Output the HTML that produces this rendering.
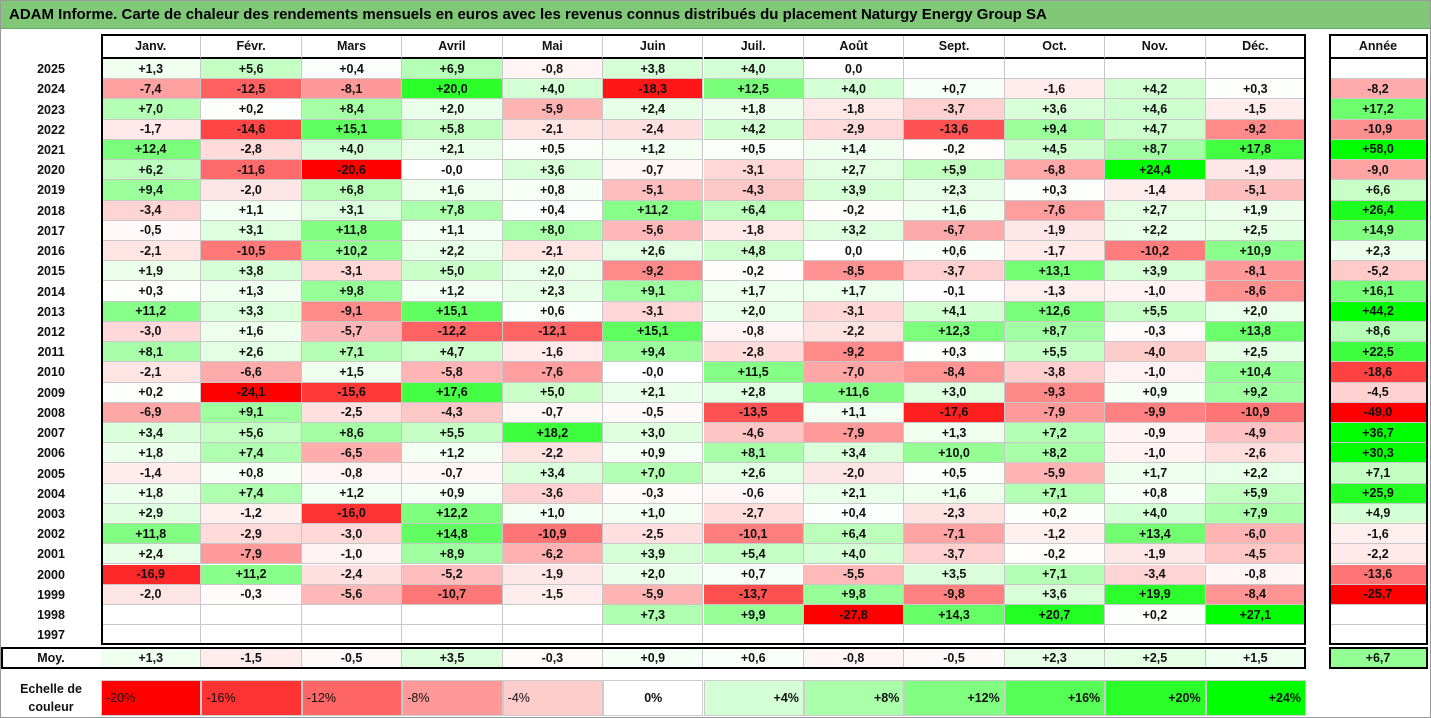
<!DOCTYPE html>
<html><head><meta charset="utf-8"><style>
body{margin:0;width:1431px;height:718px;background:#fff;overflow:hidden;font-family:"Liberation Sans",sans-serif;}
#root{position:relative;width:1431px;height:718px;box-sizing:border-box;border:1px solid #999;}
.c{position:absolute;box-sizing:border-box;font-weight:bold;font-size:12.5px;color:#111;display:flex;align-items:center;justify-content:center;white-space:nowrap;}
.box{position:absolute;box-sizing:border-box;border:2px solid #000;pointer-events:none;}
#title{position:absolute;left:0;top:0;width:1429px;height:28px;background:#80c878;font-weight:bold;font-size:15px;line-height:28px;padding-left:8px;box-sizing:border-box;border-bottom:1px solid #6a6;}
</style></head><body>
<div id="root">
<div id="title">ADAM Informe. Carte de chaleur des rendements mensuels en euros avec les revenus connus distribués du placement Naturgy Energy Group SA</div>
</div>
<script>
const months=["Janv.","Févr.","Mars","Avril","Mai","Juin","Juil.","Août","Sept.","Oct.","Nov.","Déc."];
const years=[2025,2024,2023,2022,2021,2020,2019,2018,2017,2016,2015,2014,2013,2012,2011,2010,2009,2008,2007,2006,2005,2004,2003,2002,2001,2000,1999,1998,1997];
const N=null;
const monthly=[
[1.3,5.6,0.4,6.9,-0.8,3.8,4.0,0.0,N,N,N,N],
[-7.4,-12.5,-8.1,20.0,4.0,-18.3,12.5,4.0,0.7,-1.6,4.2,0.3],
[7.0,0.2,8.4,2.0,-5.9,2.4,1.8,-1.8,-3.7,3.6,4.6,-1.5],
[-1.7,-14.6,15.1,5.8,-2.1,-2.4,4.2,-2.9,-13.6,9.4,4.7,-9.2],
[12.4,-2.8,4.0,2.1,0.5,1.2,0.5,1.4,-0.2,4.5,8.7,17.8],
[6.2,-11.6,-20.6,-0,3.6,-0.7,-3.1,2.7,5.9,-6.8,24.4,-1.9],
[9.4,-2.0,6.8,1.6,0.8,-5.1,-4.3,3.9,2.3,0.3,-1.4,-5.1],
[-3.4,1.1,3.1,7.8,0.4,11.2,6.4,-0.2,1.6,-7.6,2.7,1.9],
[-0.5,3.1,11.8,1.1,8.0,-5.6,-1.8,3.2,-6.7,-1.9,2.2,2.5],
[-2.1,-10.5,10.2,2.2,-2.1,2.6,4.8,0.0,0.6,-1.7,-10.2,10.9],
[1.9,3.8,-3.1,5.0,2.0,-9.2,-0.2,-8.5,-3.7,13.1,3.9,-8.1],
[0.3,1.3,9.8,1.2,2.3,9.1,1.7,1.7,-0.1,-1.3,-1.0,-8.6],
[11.2,3.3,-9.1,15.1,0.6,-3.1,2.0,-3.1,4.1,12.6,5.5,2.0],
[-3.0,1.6,-5.7,-12.2,-12.1,15.1,-0.8,-2.2,12.3,8.7,-0.3,13.8],
[8.1,2.6,7.1,4.7,-1.6,9.4,-2.8,-9.2,0.3,5.5,-4.0,2.5],
[-2.1,-6.6,1.5,-5.8,-7.6,-0,11.5,-7.0,-8.4,-3.8,-1.0,10.4],
[0.2,-24.1,-15.6,17.6,5.0,2.1,2.8,11.6,3.0,-9.3,0.9,9.2],
[-6.9,9.1,-2.5,-4.3,-0.7,-0.5,-13.5,1.1,-17.6,-7.9,-9.9,-10.9],
[3.4,5.6,8.6,5.5,18.2,3.0,-4.6,-7.9,1.3,7.2,-0.9,-4.9],
[1.8,7.4,-6.5,1.2,-2.2,0.9,8.1,3.4,10.0,8.2,-1.0,-2.6],
[-1.4,0.8,-0.8,-0.7,3.4,7.0,2.6,-2.0,0.5,-5.9,1.7,2.2],
[1.8,7.4,1.2,0.9,-3.6,-0.3,-0.6,2.1,1.6,7.1,0.8,5.9],
[2.9,-1.2,-16.0,12.2,1.0,1.0,-2.7,0.4,-2.3,0.2,4.0,7.9],
[11.8,-2.9,-3.0,14.8,-10.9,-2.5,-10.1,6.4,-7.1,-1.2,13.4,-6.0],
[2.4,-7.9,-1.0,8.9,-6.2,3.9,5.4,4.0,-3.7,-0.2,-1.9,-4.5],
[-16.9,11.2,-2.4,-5.2,-1.9,2.0,0.7,-5.5,3.5,7.1,-3.4,-0.8],
[-2.0,-0.3,-5.6,-10.7,-1.5,-5.9,-13.7,9.8,-9.8,3.6,19.9,-8.4],
[N,N,N,N,N,7.3,9.9,-27.8,14.3,20.7,0.2,27.1],
[N,N,N,N,N,N,N,N,N,N,N,N]];
const annual=[N,-8.2,17.2,-10.9,58.0,-9.0,6.6,26.4,14.9,2.3,-5.2,16.1,44.2,8.6,22.5,-18.6,-4.5,-49.0,36.7,30.3,7.1,25.9,4.9,-1.6,-2.2,-13.6,-25.7,N,N];
const averages=[1.3,-1.5,-0.5,3.5,-0.3,0.9,0.6,-0.8,-0.5,2.3,2.5,1.5];
const avgAnnual=6.7;
const scaleVals=[-20,-16,-12,-8,-4,0,4,8,12,16,20,24];

const root=document.getElementById('root');
const X0=100,CW=(1305-100)/12,Y0=58,RH=20.22,AX=1328,AW=99;
function col(v,neg,pos){
  if(v===null)return '#fff';
  let t;
  if(v<0){t=Math.min(1,-v/neg);const g=Math.round(255*(1-t));return `rgb(255,${g},${g})`;}
  t=Math.min(1,v/pos);const r=Math.round(255*(1-t));return `rgb(${r},255,${r})`;
}
function fmt(v){if(v===null)return '';if(Object.is(v,-0))return '-0,0';if(v===0)return '0,0';return (v>0?'+':'')+v.toFixed(1).replace('.',',');}
function cell(x,y,w,h,txt,bg,name,extra){
  const d=document.createElement('div');d.className='c';
  d.style.cssText=`left:${x}px;top:${y}px;width:${w}px;height:${h}px;background:${bg};border-right:1px solid #c8c8c8;border-bottom:1px solid #c8c8c8;`+(extra||'');
  d.textContent=txt;
  
  
  root.appendChild(d);return d;
}
function box(x,y,w,h,name){const b=document.createElement('div');b.className='box';b.style.cssText=`left:${x}px;top:${y}px;width:${w}px;height:${h}px;`;


root.appendChild(b);}
months.forEach((m,j)=>{const d=cell(X0+j*CW,33,CW,25,m,'#fff','month-header');d.style.borderBottom='2px solid #000';});
cell(AX,33,AW,25,'Année','#fff','annual-header','border-bottom:2px solid #000;');
years.forEach((yr,i)=>{
  const y=Y0+i*RH;
  cell(0,y,X0,RH,String(yr),'#fff','year-label','border-right:none;border-bottom:none;');
  monthly[i].forEach((v,j)=>cell(X0+j*CW,y,CW,RH,fmt(v),col(v,20,24),'heat-cell'));
  cell(AX,y,AW,RH,fmt(annual[i]),col(annual[i],25,30),'annual-cell');
});
const bottom=Y0+years.length*RH;
box(X0,33,1305-X0,bottom-33,'monthly-table-border');
box(AX,33,AW,bottom-33,'annual-table-border');
const my=bottom+2,mh=22;
cell(0,my,X0,mh,'Moy.','#fff','average-label','border:none;');
averages.forEach((v,j)=>cell(X0+j*CW,my,CW,mh,fmt(v),col(v,20,24),'average-cell'));
cell(AX,my,AW,mh,fmt(avgAnnual),col(avgAnnual,12,16),'annual-average-cell');
box(0,my,1305,mh,'average-row-border');
box(AX,my,AW,mh,'annual-average-border');
cell(0,679,X0,36,'Echelle de couleur','#fff','scale-label','border:none;white-space:normal;text-align:center;line-height:18px;');
scaleVals.forEach((v,j)=>{
  const al=v<0?'flex-start':(v>0?'flex-end':'center');
  cell(X0+j*CW,679,CW,36,(v>0?'+':'')+v+'%',col(v,20,24),'scale-cell',`justify-content:${al};padding:0 4px;font-weight:${v<0?'normal':'bold'};border:1px solid #ccc;`);
});
</script>
</body></html>
